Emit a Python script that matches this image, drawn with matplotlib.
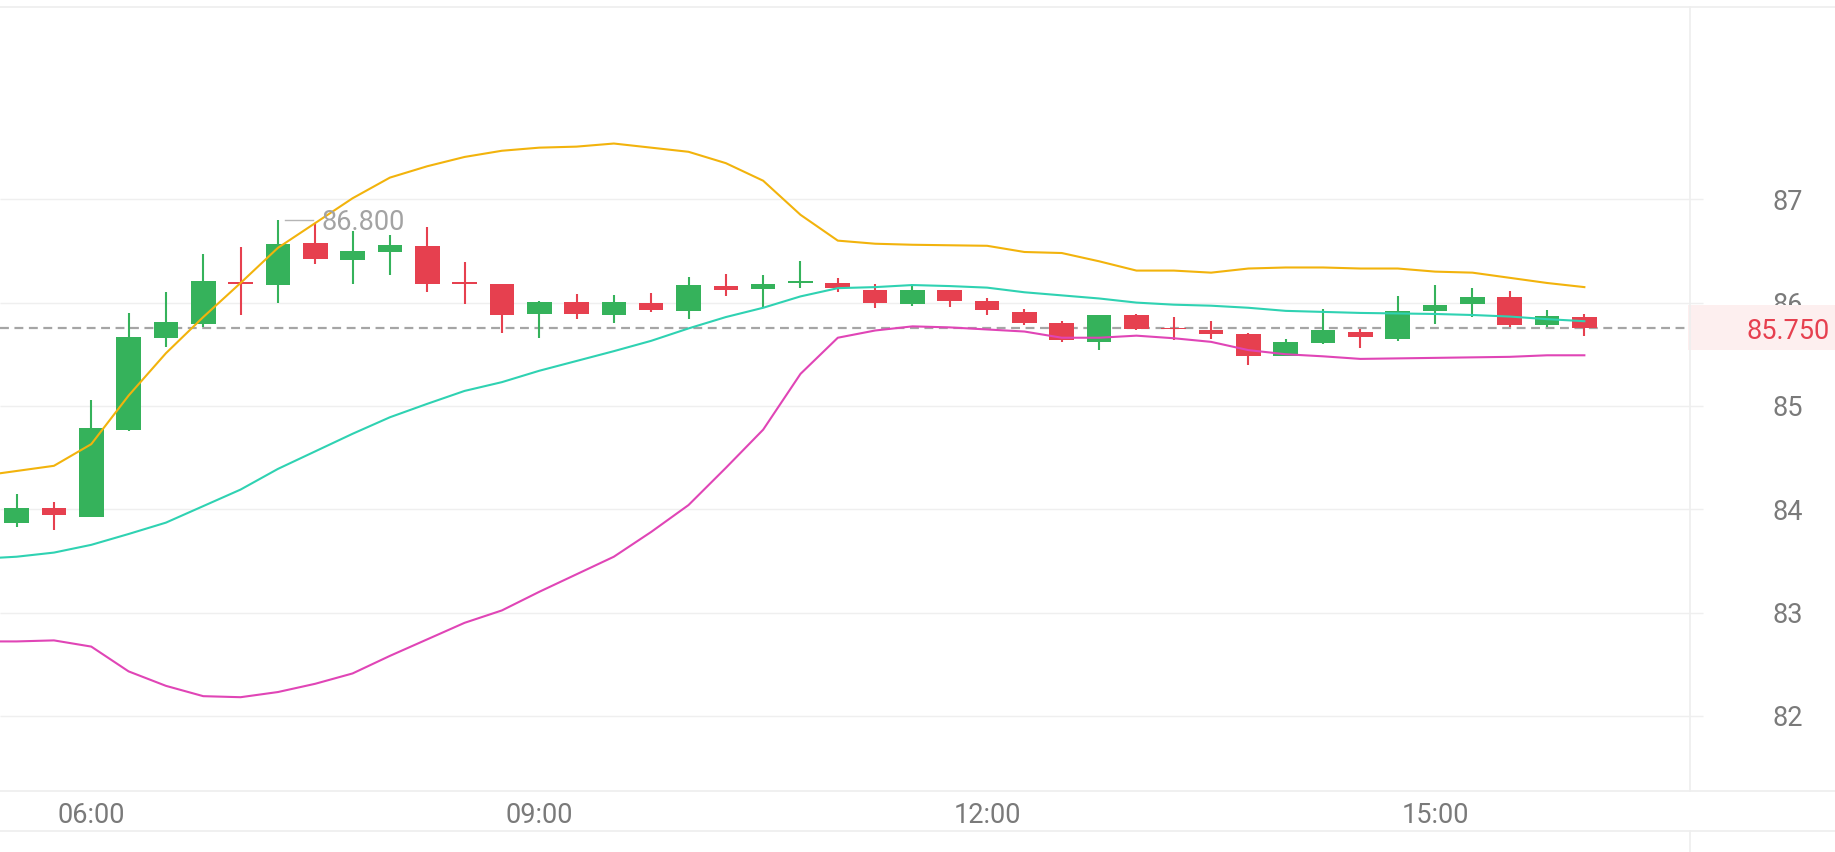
import numpy as np
import pandas as pd
import matplotlib
matplotlib.use('Agg')
import matplotlib.pyplot as plt
import matplotlib.transforms as mtrans
from matplotlib.lines import Line2D
from matplotlib.patches import Rectangle

plt.rcParams['font.family'] = ['Roboto', 'DejaVu Sans']

# 15 minute candles, 05:30 .. 16:00
times = pd.date_range('2024-01-01 05:30', '2024-01-01 16:00', freq='15min')

opens = [83.87, 84.01, 83.92, 84.77, 85.66, 85.79, 86.20, 86.17, 86.58, 86.41,
         86.49, 86.55, 86.19, 86.18, 85.89, 86.01, 85.88, 86.00, 85.92, 86.16,
         86.13, 86.19, 86.19, 86.12, 85.99, 86.12, 86.02, 85.91, 85.80, 85.62,
         85.88, 85.75, 85.73, 85.70, 85.48, 85.61, 85.72, 85.65, 85.92, 85.99,
         86.05, 85.78, 85.86]
highs = [84.15, 84.07, 85.06, 85.90, 86.10, 86.47, 86.54, 86.80, 86.77, 86.69,
         86.65, 86.73, 86.39, 86.18, 86.02, 86.08, 86.07, 86.09, 86.25, 86.28,
         86.27, 86.40, 86.24, 86.18, 86.18, 86.12, 86.04, 85.94, 85.82, 85.88,
         85.89, 85.86, 85.82, 85.71, 85.65, 85.94, 85.74, 86.06, 86.17, 86.14,
         86.11, 85.93, 85.89]
lows = [83.83, 83.80, 83.92, 84.76, 85.57, 85.76, 85.88, 86.00, 86.37, 86.18,
        86.27, 86.10, 85.99, 85.71, 85.66, 85.84, 85.80, 85.91, 85.84, 86.06,
        85.96, 86.14, 86.10, 85.95, 85.97, 85.96, 85.88, 85.78, 85.62, 85.54,
        85.73, 85.64, 85.65, 85.40, 85.48, 85.60, 85.56, 85.63, 85.79, 85.86,
        85.76, 85.76, 85.68]
closes = [84.01, 83.94, 84.79, 85.67, 85.81, 86.21, 86.18, 86.57, 86.42, 86.50,
          86.56, 86.18, 86.18, 85.88, 86.01, 85.89, 86.01, 85.93, 86.17, 86.12,
          86.18, 86.20, 86.14, 86.00, 86.12, 86.02, 85.93, 85.80, 85.64, 85.88,
          85.74, 85.74, 85.70, 85.48, 85.62, 85.73, 85.67, 85.92, 85.98, 86.05,
          85.78, 85.87, 85.75]

# bollinger bands (first point 05:15, just off the left edge)
band_times = pd.date_range('2024-01-01 05:15', '2024-01-01 16:00', freq='15min')
boll_up = [84.32, 84.37, 84.42, 84.63, 85.10, 85.51, 85.86, 86.19, 86.53, 86.77,
           87.01, 87.21, 87.32, 87.41, 87.47, 87.50, 87.51, 87.54, 87.50, 87.46,
           87.35, 87.18, 86.85, 86.60, 86.57, 86.56, 86.555, 86.55, 86.49, 86.48,
           86.40, 86.31, 86.31, 86.29, 86.33, 86.34, 86.34, 86.33, 86.33, 86.30,
           86.29, 86.24, 86.19, 86.15]
boll_mid = [83.52, 83.54, 83.58, 83.655, 83.76, 83.87, 84.03, 84.19, 84.39, 84.56,
            84.73, 84.89, 85.02, 85.145, 85.23, 85.34, 85.435, 85.53, 85.63, 85.75,
            85.86, 85.95, 86.06, 86.14, 86.15, 86.17, 86.16, 86.145, 86.10, 86.07,
            86.04, 86.00, 85.98, 85.97, 85.95, 85.92, 85.91, 85.90, 85.895, 85.89,
            85.88, 85.865, 85.84, 85.82]
boll_low = [82.72, 82.72, 82.73, 82.67, 82.43, 82.29, 82.19, 82.18, 82.23, 82.31,
            82.41, 82.58, 82.74, 82.90, 83.02, 83.20, 83.37, 83.54, 83.78, 84.04,
            84.40, 84.77, 85.31, 85.66, 85.73, 85.77, 85.76, 85.74, 85.72, 85.66,
            85.66, 85.68, 85.655, 85.62, 85.54, 85.50, 85.48, 85.455, 85.46, 85.465,
            85.47, 85.475, 85.49, 85.49]

price_ticks = [82, 83, 84, 85, 86, 87]

UP = '#35B25B'
DOWN = '#E6404F'
GRID = '#EFEFEF'
TXT = '#7A7A7A'

fig = plt.figure(figsize=(18.35, 8.52), dpi=100)
W, H = 1835, 852
ax = fig.add_axes([0, 1 - 791 / H, 1690 / W, (791 - 8) / H])
ax.set_xlim(-0.445, 44.83)
ax.set_ylim(81.272, 88.852)
for s in ax.spines.values():
    s.set_visible(False)
ax.set_xticks([])
ax.set_yticks([])

step = pd.Timedelta('15min')
x = np.asarray((times - times[0]) / step, dtype=float)
xb = np.asarray((band_times - times[0]) / step, dtype=float)
o = np.array(opens)
c = np.array(closes)
up = c >= o

# grid
ax.hlines(price_ticks, 0, 1703 / 1690, transform=ax.get_yaxis_transform(),
          colors=GRID, lw=1, clip_on=False, zorder=0)

# candles
cols = np.where(up, UP, DOWN)
ax.vlines(x, lows, highs, colors=cols, lw=1.5, zorder=3)
body_lo = np.minimum(o, c)
body_h = np.maximum(np.abs(c - o), 0.018)
ax.bar(x, body_h, bottom=body_lo, width=0.66, color=cols, zorder=4)

# bands
ax.plot(xb, boll_up, color='#F2B30C', lw=1.5, zorder=5)
ax.plot(xb, boll_mid, color='#2FD2B2', lw=1.5, zorder=5)
ax.plot(xb, boll_low, color='#E045B6', lw=1.5, zorder=5)

# last price line
last = closes[-1]
ax.axhline(last, color='#A5A5A5', lw=1.6, ls=(0, (4, 2.5)), zorder=2)

off = mtrans.ScaledTranslation(0, -10.5 / 100, fig.dpi_scale_trans)
yblend = mtrans.blended_transform_factory(ax.transAxes, ax.transData)
xblend = mtrans.blended_transform_factory(ax.transData, ax.transAxes)

# right price labels
for p in price_ticks:
    ax.text(1.058, p, str(p), transform=yblend + off, ha='center',
            va='baseline', fontsize=19.5, color=TXT, clip_on=False)

# last price tag
ax.add_patch(Rectangle((0.9988, last - 0.21), 0.0872, 0.436, transform=yblend,
                       facecolor='#FDEFEF', edgecolor='none', clip_on=False,
                       zorder=6))
ax.text(1.058, last, f'{last:.3f}', transform=yblend + off, ha='center',
        va='baseline', fontsize=19.5, color=DOWN, clip_on=False, zorder=7)

# max marker
imax = int(np.argmax(highs))
hmax = highs[imax]
ax.plot([x[imax] + 0.19, x[imax] + 0.94], [hmax, hmax], color='#B5B5B5', lw=1,
        zorder=6)
ax.text(x[imax] + 1.18, hmax, f'{hmax:.3f}', transform=ax.transData + off,
        ha='left', va='baseline', fontsize=19.5, color='#A3A3A3', zorder=6)

# time labels
for i, t in enumerate(times):
    if t.minute == 0 and t.hour % 3 == 0:
        ax.text(x[i], -0.0409, t.strftime('%H:%M'), transform=xblend,
                ha='center', va='baseline', fontsize=19.5, color=TXT,
                clip_on=False)

# frame lines
xr = 1690 / W
for yy in [1 - 7 / H, 1 - 791 / H, 1 - 831 / H]:
    fig.add_artist(Line2D([0, 1], [yy, yy], color='#EEEEEE', lw=1.2))
fig.add_artist(Line2D([xr, xr], [1 - 7 / H, 1 - 791 / H], color='#EEEEEE', lw=1.2))
fig.add_artist(Line2D([xr, xr], [1 - 831 / H, 0], color='#EEEEEE', lw=1.2))

fig.savefig('out.png', dpi=100, facecolor='white')
